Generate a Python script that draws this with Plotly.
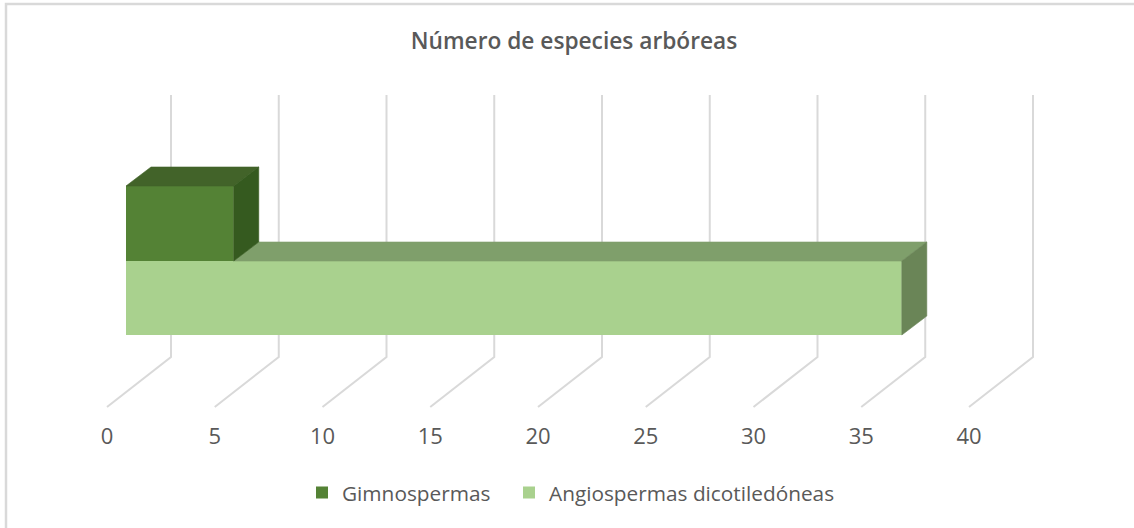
import plotly.graph_objects as go

# --- data ---
series_names = ["Gimnospermas", "Angiospermas dicotiledóneas"]
series_values = [5, 36]
tick_values = [0, 5, 10, 15, 20, 25, 30, 35, 40]
title_text = "Número de especies arbóreas"

# --- pseudo-3D geometry (pixel-based scale) ---
W, H = 1134, 528
PLOT_BOTTOM = 421
X0, PX_PER_UNIT = 107.0, 21.55
u = lambda px: px / PX_PER_UNIT
WALL_DX, WALL_Y_TOP, WALL_Y_BOT, FLOOR_Y = u(64), 95, 357, 407
BAR_BASE = u(19)          # bar front offset from the floor front, in value units
BAR_DX, BAR_DY = u(25), 19
BAR_TOP = [186, 261]
BAR_BOT = [261, 335]
FRONT = ["#548235", "#A9D18E"]
TOPC = ["#426329", "#7F9F6B"]
SIDE = ["#355A1F", "#6A8557"]
GRID = "#D9D9D9"
TXT = "#595959"
LEGEND_X = [302, 509]
LEGEND_NAMES = ["legend", "legend2"]

fig = go.Figure()

# front faces
for i, (name, val) in enumerate(zip(series_names, series_values)):
    fig.add_trace(go.Bar(
        name=name, orientation="h", x=[val], base=BAR_BASE,
        y=[(BAR_TOP[i] + BAR_BOT[i]) / 2], width=BAR_BOT[i] - BAR_TOP[i],
        marker=dict(color=FRONT[i], line=dict(width=0)),
        hoverinfo="skip", legend=LEGEND_NAMES[i], showlegend=True,
    ))


def poly(xs, ys, color):
    fig.add_trace(go.Scatter(x=xs, y=ys, mode="lines", fill="toself", fillcolor=color,
                             line=dict(width=0.6, color=color), showlegend=False,
                             hoverinfo="skip"))


# lower bar first, so the taller bar's faces sit on top of it
for i in [1, 0]:
    val = series_values[i]
    end = BAR_BASE + val
    start = BAR_BASE + (series_values[0] if i == 1 else 0)
    t, b = BAR_TOP[i], BAR_BOT[i]
    poly([start, start + BAR_DX, end + BAR_DX, end, start], [t, t - BAR_DY, t - BAR_DY, t, t], TOPC[i])
    poly([end, end + BAR_DX, end + BAR_DX, end, end], [t, t - BAR_DY, b - BAR_DY, b, t], SIDE[i])

# gridlines beneath the bars
shapes = []
for v in tick_values:
    path = (f"M {v},{FLOOR_Y} L {v + WALL_DX},{WALL_Y_BOT} L {v + WALL_DX},{WALL_Y_TOP}")
    shapes.append(dict(type="path", path=path, xref="x", yref="y", layer="below",
                       line=dict(color=GRID, width=2)))
# chart frame
shapes.append(dict(type="rect", xref="paper", yref="paper", layer="below",
                   x0=6 / W, x1=1.02, y0=(PLOT_BOTTOM - H - 20) / PLOT_BOTTOM, y1=1 - 4 / PLOT_BOTTOM,
                   line=dict(color=GRID, width=2.5)))


def legend_cfg(px):
    return dict(orientation="h", x=px / W, xanchor="left", y=-(493 - PLOT_BOTTOM) / PLOT_BOTTOM,
                yanchor="middle", font=dict(family="Open Sans", size=20.8, color=TXT),
                bgcolor="rgba(0,0,0,0)")


fig.update_layout(
    width=W, height=H, autosize=False,
    margin=dict(l=0, r=0, t=0, b=H - PLOT_BOTTOM, pad=0),
    paper_bgcolor="white", plot_bgcolor="rgba(0,0,0,0)",
    barmode="overlay", hovermode=False,
    font=dict(family="Open Sans", color=TXT),
    title=dict(text=title_text, x=574 / W, xanchor="center", xref="paper",
               y=1 - 41 / H, yanchor="middle", yref="container",
               font=dict(family="Open Sans", size=22.7, color=TXT, weight=600)),
    xaxis=dict(range=[u(-X0), u(W - X0)], tickvals=tick_values, ticktext=[str(t) for t in tick_values],
               showgrid=False, zeroline=False, showline=False, ticks="",
               tickfont=dict(family="Open Sans", size=22, color=TXT), fixedrange=True),
    yaxis=dict(range=[PLOT_BOTTOM, 0], visible=False, fixedrange=True),
    legend=legend_cfg(LEGEND_X[0]),
    legend2=legend_cfg(LEGEND_X[1]),
    shapes=shapes,
)

fig.write_html("out.html", config={"displayModeBar": False},
               post_script="document.body.style.margin='0';document.documentElement.style.overflow='hidden';")
